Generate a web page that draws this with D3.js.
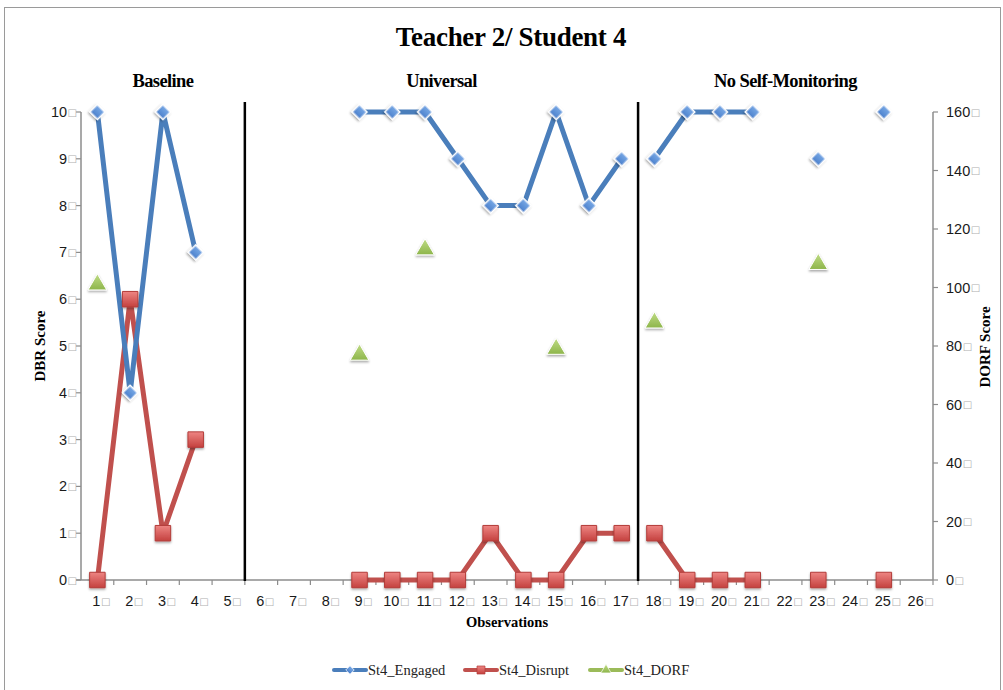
<!DOCTYPE html>
<html><head><meta charset="utf-8">
<script src="https://cdn.jsdelivr.net/npm/d3@7"></script>
<style>body{margin:0;background:#fff}svg{display:block}</style>
</head><body>
<script>
const categories = ["1","2","3","4","5","6","7","8","9","10","11","12","13","14","15","16","17","18","19","20","21","22","23","24","25","26"];
const engaged = [10,4,10,7,null,null,null,null,10,10,10,9,8,8,10,8,9,9,10,10,10,null,9,null,10,null];
const disrupt = [0,6,1,3,null,null,null,null,0,0,0,0,1,0,0,1,1,1,0,0,0,null,0,null,0,null];
const dorf = [101,null,null,null,null,null,null,null,77,null,113,null,null,null,79,null,null,88,null,null,null,null,108,null,null,null];
const dbrTicks = [0,1,2,3,4,5,6,7,8,9,10];
const dorfTicks = [0,20,40,60,80,100,120,140,160];
const phases = [
  {label:"Baseline", start:0, end:4},
  {label:"Universal", start:5, end:16},
  {label:"No Self-Monitoring", start:17, end:25}
];
const seriesNames = ["St4_Engaged","St4_Disrupt","St4_DORF"];
const chartTitle = "Teacher 2/ Student 4";

const W = 1003, H = 690;
const pLeft = 81, pRight = 933, pTop = 112, pBottom = 580;
const svg = d3.select("body").append("svg").attr("width", W).attr("height", H);

const defs = svg.append("defs");
function grad(id, c1, c2){
  const g = defs.append("linearGradient").attr("id", id).attr("x1",0).attr("y1",0).attr("x2",0).attr("y2",1);
  g.append("stop").attr("offset","0%").attr("stop-color",c1);
  g.append("stop").attr("offset","100%").attr("stop-color",c2);
}
grad("gBlue","#7aaae6","#4a7fcb");
grad("gRed","#ee8583","#c4413e");
grad("gGreen","#c0dc86","#8db54a");
const flt = defs.append("filter").attr("id","sh").attr("x","-50%").attr("y","-50%").attr("width","200%").attr("height","200%");
flt.append("feDropShadow").attr("dx",0).attr("dy",1.5).attr("stdDeviation",1.2).attr("flood-color","#000").attr("flood-opacity",0.35);

svg.append("rect").attr("x",4.5).attr("y",7.5).attr("width",996).attr("height",700).attr("fill","none").attr("stroke","#9a9a9a").attr("stroke-width",1);

const x = d3.scaleBand().domain(categories).range([pLeft, pRight]).padding(0);
const y = d3.scaleLinear().domain([0,10]).range([pBottom, pTop]);
const y2 = d3.scaleLinear().domain([0,160]).range([pBottom, pTop]);
const cx = i => x(categories[i]) + x.bandwidth()/2;

const tickFont = "'Liberation Sans', Arial, sans-serif";
const serif = "'Liberation Serif', 'Times New Roman', serif";

function tofu(sel){
  sel.append("tspan").attr("font-family","'DejaVu Sans', sans-serif").attr("font-size","10px").attr("fill","#b0b0b0").attr("dx","0.5").attr("dy","-1.5").text("\u25A1");
}

const axisColor = "#8c8c8c";
svg.append("line").attr("x1",pLeft).attr("x2",pLeft).attr("y1",pTop).attr("y2",pBottom).attr("stroke",axisColor).attr("stroke-width",1.5);
svg.append("line").attr("x1",pRight).attr("x2",pRight).attr("y1",pTop).attr("y2",pBottom).attr("stroke",axisColor).attr("stroke-width",1.5);
svg.append("line").attr("x1",pLeft-5).attr("x2",pRight).attr("y1",pBottom).attr("y2",pBottom).attr("stroke",axisColor).attr("stroke-width",1.5);

dbrTicks.forEach(t=>{
  svg.append("line").attr("x1",pLeft-5).attr("x2",pLeft).attr("y1",y(t)).attr("y2",y(t)).attr("stroke",axisColor).attr("stroke-width",1.2);
  const tx = svg.append("text").attr("x",pLeft-4).attr("y",y(t)+5).attr("text-anchor","end")
    .attr("font-family",tickFont).attr("font-size","14.5px").attr("fill","#1a1a1a").text(t);
  tofu(tx);
});
dorfTicks.forEach(t=>{
  svg.append("line").attr("x1",pRight).attr("x2",pRight+5).attr("y1",y2(t)).attr("y2",y2(t)).attr("stroke",axisColor).attr("stroke-width",1.2);
  const tx = svg.append("text").attr("x",pRight+13).attr("y",y2(t)+5).attr("text-anchor","start")
    .attr("font-family",tickFont).attr("font-size","14.5px").attr("fill","#1a1a1a").text(t);
  tofu(tx);
});
categories.forEach((c,i)=>{
  svg.append("line").attr("x1",x(c)+x.bandwidth()).attr("x2",x(c)+x.bandwidth()).attr("y1",pBottom).attr("y2",pBottom+5).attr("stroke",axisColor).attr("stroke-width",1.2);
  const tx = svg.append("text").attr("x",cx(i)+4).attr("y",pBottom+26).attr("text-anchor","middle")
    .attr("font-family",tickFont).attr("font-size","14.5px").attr("fill","#1a1a1a").text(c);
  tofu(tx);
});

[phases[1].start, phases[2].start].forEach(s=>{
  const px = x(categories[s]);
  svg.append("line").attr("x1",px).attr("x2",px).attr("y1",102).attr("y2",pBottom+1).attr("stroke","#000").attr("stroke-width",2.5);
});

const line = d3.line().defined(d=>d.v!=null).x(d=>cx(d.i)).y(d=>d.s(d.v));
function drawLine(vals, scale, color){
  phases.forEach(p=>{
    const pts = vals.map((v,i)=>({v, i, s:scale})).filter(d=>d.i>=p.start && d.i<=p.end);
    svg.append("path").attr("d", line(pts)).attr("fill","none").attr("stroke",color).attr("stroke-width",5).attr("stroke-linejoin","miter");
  });
}
drawLine(disrupt, y, "#c0504d");
drawLine(engaged, y, "#4a7ebb");

const sq = d3.symbol().type(d3.symbolSquare).size(240);
const dia = d3.symbol().type(d3.symbolSquare).size(115);
const tri = d3.symbol().type(d3.symbolTriangle).size(150);
disrupt.forEach((v,i)=>{ if(v==null) return;
  svg.append("path").attr("d",sq()).attr("transform",`translate(${cx(i)},${y(v)})`)
    .attr("fill","url(#gRed)").attr("stroke","#b33d3a").attr("stroke-width",1).attr("filter","url(#sh)");
});
engaged.forEach((v,i)=>{ if(v==null) return;
  svg.append("path").attr("d",dia()).attr("transform",`translate(${cx(i)},${y(v)}) rotate(45)`)
    .attr("fill","url(#gBlue)").attr("stroke","#fff").attr("stroke-width",1.5).attr("filter","url(#sh)");
});
dorf.forEach((v,i)=>{ if(v==null) return;
  svg.append("path").attr("d",tri()).attr("transform",`translate(${cx(i)},${y2(v)})`)
    .attr("fill","url(#gGreen)").attr("stroke","#fff").attr("stroke-width",1).attr("filter","url(#sh)");
});

svg.append("text").attr("x",511).attr("y",46).attr("text-anchor","middle").attr("font-family",serif)
  .attr("font-weight","bold").attr("font-size","27px").attr("letter-spacing","-0.3").attr("fill","#000").text(chartTitle);
phases.forEach(p=>{
  const mx = (x(categories[p.start]) + x(categories[p.end]) + x.bandwidth())/2;
  svg.append("text").attr("x",mx).attr("y",87).attr("text-anchor","middle").attr("font-family",serif)
    .attr("font-weight","bold").attr("font-size","18.5px").attr("letter-spacing","-0.6").attr("fill","#000").text(p.label);
});
svg.append("text").attr("transform","translate(45,346) rotate(-90)").attr("text-anchor","middle").attr("font-family",serif)
  .attr("font-weight","bold").attr("font-size","15px").text("DBR Score");
svg.append("text").attr("transform","translate(990,347) rotate(-90)").attr("text-anchor","middle").attr("font-family",serif)
  .attr("font-weight","bold").attr("font-size","15px").text("DORF Score");
svg.append("text").attr("x",507).attr("y",627).attr("text-anchor","middle").attr("font-family",serif)
  .attr("font-weight","bold").attr("font-size","14.5px").text("Observations");

const legX = [334, 465, 590];
const legColors = ["#4a7ebb","#c0504d","#9bbb59"];
const legFills = ["url(#gBlue)","url(#gRed)","url(#gGreen)"];
const legY = 670;
seriesNames.forEach((n,k)=>{
  const lx = legX[k];
  svg.append("line").attr("x1",lx).attr("x2",lx+32).attr("y1",legY).attr("y2",legY).attr("stroke",legColors[k]).attr("stroke-width",4).attr("stroke-linecap","round");
  let sym, tr = `translate(${lx+16},${legY})`;
  if(k===0){ sym = d3.symbol().type(d3.symbolSquare).size(36)(); tr += " rotate(45)"; }
  else if(k===1){ sym = d3.symbol().type(d3.symbolSquare).size(64)(); }
  else { sym = d3.symbol().type(d3.symbolTriangle).size(45)(); }
  svg.append("path").attr("d",sym).attr("transform",tr).attr("fill",legFills[k]).attr("stroke",k===1?"#b33d3a":"#fff").attr("stroke-width",0.7);
  svg.append("text").attr("x",lx+34).attr("y",legY+5).attr("font-family",serif).attr("font-size","14.5px").attr("fill","#222").text(n);
});
</script>
</body></html>
